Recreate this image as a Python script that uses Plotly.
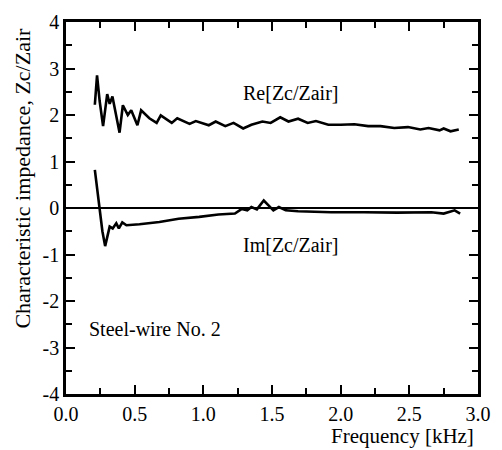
import plotly.graph_objects as go

re_f = [0.21, 0.226, 0.245, 0.27, 0.30, 0.318, 0.338, 0.36, 0.39, 0.414, 0.45, 0.475, 0.52, 0.547,
        0.607, 0.66, 0.69, 0.77, 0.81, 0.90, 0.945, 1.04, 1.09, 1.16, 1.22, 1.29, 1.35, 1.43, 1.49,
        1.56, 1.62, 1.69, 1.76, 1.82, 1.91, 2.0, 2.10, 2.20, 2.29, 2.39, 2.49, 2.58, 2.64, 2.72,
        2.75, 2.80, 2.86]
re_v = [2.22, 2.85, 2.3, 1.76, 2.45, 2.24, 2.40, 2.1, 1.62, 2.21, 2.0, 2.1, 1.78, 2.10,
        1.93, 1.83, 1.99, 1.83, 1.93, 1.81, 1.87, 1.78, 1.86, 1.76, 1.83, 1.71, 1.79, 1.86, 1.83,
        1.95, 1.86, 1.92, 1.83, 1.87, 1.79, 1.79, 1.80, 1.76, 1.76, 1.72, 1.74, 1.69, 1.72, 1.67,
        1.71, 1.65, 1.69]

im_f = [0.21, 0.243, 0.265, 0.285, 0.30, 0.318, 0.34, 0.366, 0.385, 0.41, 0.44, 0.535, 0.68,
        0.82, 0.97, 1.11, 1.23, 1.28, 1.32, 1.35, 1.39, 1.44, 1.48, 1.51, 1.55, 1.60, 1.69, 1.93,
        2.17, 2.41, 2.66, 2.75, 2.83, 2.87]
im_v = [0.82, 0.0, -0.5, -0.82, -0.6, -0.40, -0.44, -0.33, -0.44, -0.31, -0.37, -0.35, -0.30,
        -0.23, -0.19, -0.14, -0.12, -0.02, -0.05, 0.02, -0.03, 0.16, 0.04, -0.05, 0.02, -0.05, -0.07, -0.09,
        -0.09, -0.10, -0.09, -0.12, -0.05, -0.12]

x_ticks = [0.0, 0.5, 1.0, 1.5, 2.0, 2.5, 3.0]
x_labels = ["0.0", "0.5", "1.0", "1.5", "2.0", "2.5", "3.0"]
y_ticks = [-4, -3, -2, -1, 0, 1, 2, 3, 4]
y_labels = ["-4", "-3", "-2", "-1", "0", "1", "2", "3", "4"]

FONT = "Liberation Serif"

fig = go.Figure()
fig.add_trace(go.Scatter(x=re_f, y=re_v, mode="lines", line=dict(color="black", width=2.6),
                         showlegend=False))
fig.add_trace(go.Scatter(x=im_f, y=im_v, mode="lines", line=dict(color="black", width=2.6),
                         showlegend=False))

axis_common = dict(showline=True, linecolor="black", linewidth=2.5, mirror="ticks",
                   ticks="inside", ticklen=9, tickwidth=2, tickcolor="black",
                   showgrid=False, tickfont=dict(family=FONT, size=20, color="black"))

fig.update_layout(
    width=502, height=450,
    margin=dict(l=66, r=21, t=11, b=56),
    paper_bgcolor="white", plot_bgcolor="white",
    font=dict(family=FONT, size=20, color="black"),
    xaxis=dict(range=[0, 3], tickvals=x_ticks, ticktext=x_labels, zeroline=False,
               minor=dict(dtick=0.25, ticks="inside", ticklen=6, tickwidth=2, tickcolor="black"),
               **axis_common),
    yaxis=dict(range=[-4, 4], tickvals=y_ticks, ticktext=y_labels, zeroline=True,
               zerolinecolor="black", zerolinewidth=1.6,
               minor=dict(dtick=0.5, ticks="inside", ticklen=6, tickwidth=2, tickcolor="black"),
               **axis_common),
    annotations=[
        dict(text="Re[Zc/Zair]", x=0.545, y=0.81, xref="paper", yref="paper", showarrow=False,
             xanchor="center", yanchor="middle", font=dict(family=FONT, size=20)),
        dict(text="Im[Zc/Zair]", x=0.545, y=0.40, xref="paper", yref="paper", showarrow=False,
             xanchor="center", yanchor="middle", font=dict(family=FONT, size=20)),
        dict(text="Steel-wire No. 2", x=0.215, y=0.175, xref="paper", yref="paper", showarrow=False,
             xanchor="center", yanchor="middle", font=dict(family=FONT, size=20)),
        dict(text="Frequency [kHz]", x=0.816, y=-0.114, xref="paper", yref="paper", showarrow=False,
             xanchor="center", yanchor="middle", font=dict(family=FONT, size=21)),
        dict(text="Characteristic impedance, Zc/Zair", x=-0.106, y=0.58, xref="paper", yref="paper",
             showarrow=False, textangle=-90, xanchor="center", yanchor="middle",
             font=dict(family=FONT, size=22)),
    ],
)

fig.write_html("out.html")
